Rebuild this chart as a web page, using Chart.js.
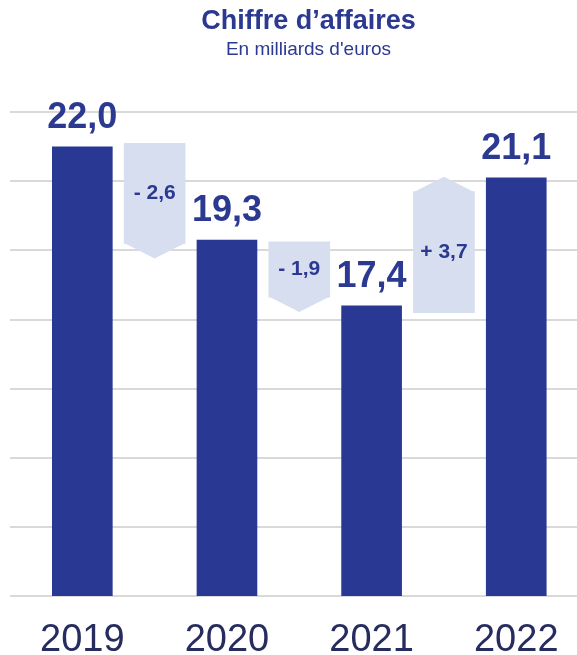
<!DOCTYPE html>
<html>
<head>
<meta charset="utf-8">
<script src="https://cdn.jsdelivr.net/npm/chart.js@4.4.1/dist/chart.umd.min.js"></script>
<style>
  html, body { margin: 0; padding: 0; background: #fff; }
  #wrap { width: 577px; height: 655px; }
</style>
</head>
<body>
<div id="wrap"><canvas id="caChart"></canvas></div>
<script>
// values
const years = ['2019', '2020', '2021', '2022'];
const revenue = [22.0, 19.3, 17.4, 21.1];
const deltas = [-2.6, -1.9, 3.7];
// body of the light "step" arrows (the point is added on top)
const stepLow = [19.2, 17.65, 17.2];
const stepHigh = [22.1, 19.25, 20.7];

const FONT = "'Liberation Sans', Arial, sans-serif";
const NAVY = '#293893';
const LIGHT = '#d6deef';
const TIP = 15;

function fr(v) {
    return v.toFixed(1).replace('.', ',');
}

// arrow points + value labels
const stepArrows = {
    id: 'stepArrows',
    afterDatasetDraw(chart, args) {
        if (args.index !== 1) return;
        const ctx = chart.ctx;
        ctx.save();
        ctx.fillStyle = LIGHT;
        args.meta.data.forEach((bar, i) => {
            const half = bar.width / 2;
            const up = deltas[i] > 0;
            const top = Math.min(bar.y, bar.base);
            const bottom = Math.max(bar.y, bar.base);
            const edge = up ? top + 0.5 : bottom - 0.5;
            const tip = up ? top - TIP : bottom + TIP;
            ctx.beginPath();
            ctx.moveTo(bar.x - half, edge);
            ctx.lineTo(bar.x, tip);
            ctx.lineTo(bar.x + half, edge);
            ctx.closePath();
            ctx.fill();
        });
        ctx.restore();
    },
    afterDatasetsDraw(chart) {
        const ctx = chart.ctx;
        ctx.save();
        ctx.textAlign = 'center';
        ctx.fillStyle = '#2b3990';

        ctx.font = 'bold 36px ' + FONT;
        ctx.textBaseline = 'alphabetic';
        chart.getDatasetMeta(0).data.forEach((bar, i) => {
            ctx.fillText(fr(revenue[i]), bar.x, bar.y - 19);
        });

        ctx.font = 'bold 21px ' + FONT;
        ctx.textBaseline = 'middle';
        chart.getDatasetMeta(1).data.forEach((bar, i) => {
            const d = deltas[i];
            const txt = (d < 0 ? '- ' : '+ ') + fr(Math.abs(d));
            ctx.fillText(txt, bar.x, (bar.y + bar.base) / 2);
        });
        ctx.restore();
    }
};

const ctx = document.getElementById('caChart').getContext('2d');
new Chart(ctx, {
    type: 'bar',
    data: {
        datasets: [{
            label: "Chiffre d'affaires",
            data: revenue.map((v, i) => ({ x: i * 2, y: v })),
            backgroundColor: NAVY,
            barThickness: 60
        }, {
            label: 'Variation',
            data: deltas.map((d, i) => ({ x: i * 2 + 1, y: [stepLow[i], stepHigh[i]] })),
            backgroundColor: LIGHT,
            barThickness: 61
        }]
    },
    options: {
        responsive: true,
        maintainAspectRatio: false,
        animation: false,
        devicePixelRatio: 1,
        // negative right padding only moves the centred title; the plot still stops at the canvas edge
        layout: { padding: { left: 10, right: -30, top: 0, bottom: 0 } },
        datasets: { bar: { grouped: false } },
        plugins: {
            legend: { display: false },
            tooltip: { enabled: false },
            title: {
                display: true,
                text: 'Chiffre d’affaires',
                color: '#2b3990',
                font: { family: FONT, size: 27, weight: 'bold' },
                padding: { top: 5, bottom: 1 }
            },
            subtitle: {
                display: true,
                text: "En milliards d'euros",
                color: '#2b3990',
                font: { family: FONT, size: 19, weight: 'normal' },
                padding: { top: 0, bottom: 51 }
            }
        },
        scales: {
            x: {
                type: 'linear',
                min: -1,
                max: 6.84,
                offset: false,
                afterBuildTicks: s => { s.ticks = [0, 2, 4, 6].map(v => ({ value: v })); },
                afterFit: s => {
                    s.height = 59;
                    s.paddingLeft = 0;
                    s.paddingRight = 0;
                },
                ticks: {
                    callback: v => years[v / 2],
                    color: '#272c5f',
                    padding: 18,
                    font: { family: FONT, size: 38, lineHeight: 1 }
                },
                grid: { display: false },
                border: { display: false }
            },
            y: {
                min: 9,
                max: 23,
                ticks: { display: false, stepSize: 2 },
                grid: { color: '#d9d9d9', lineWidth: 2, drawTicks: false },
                border: { display: false }
            }
        }
    },
    plugins: [stepArrows]
});
</script>
</body>
</html>
